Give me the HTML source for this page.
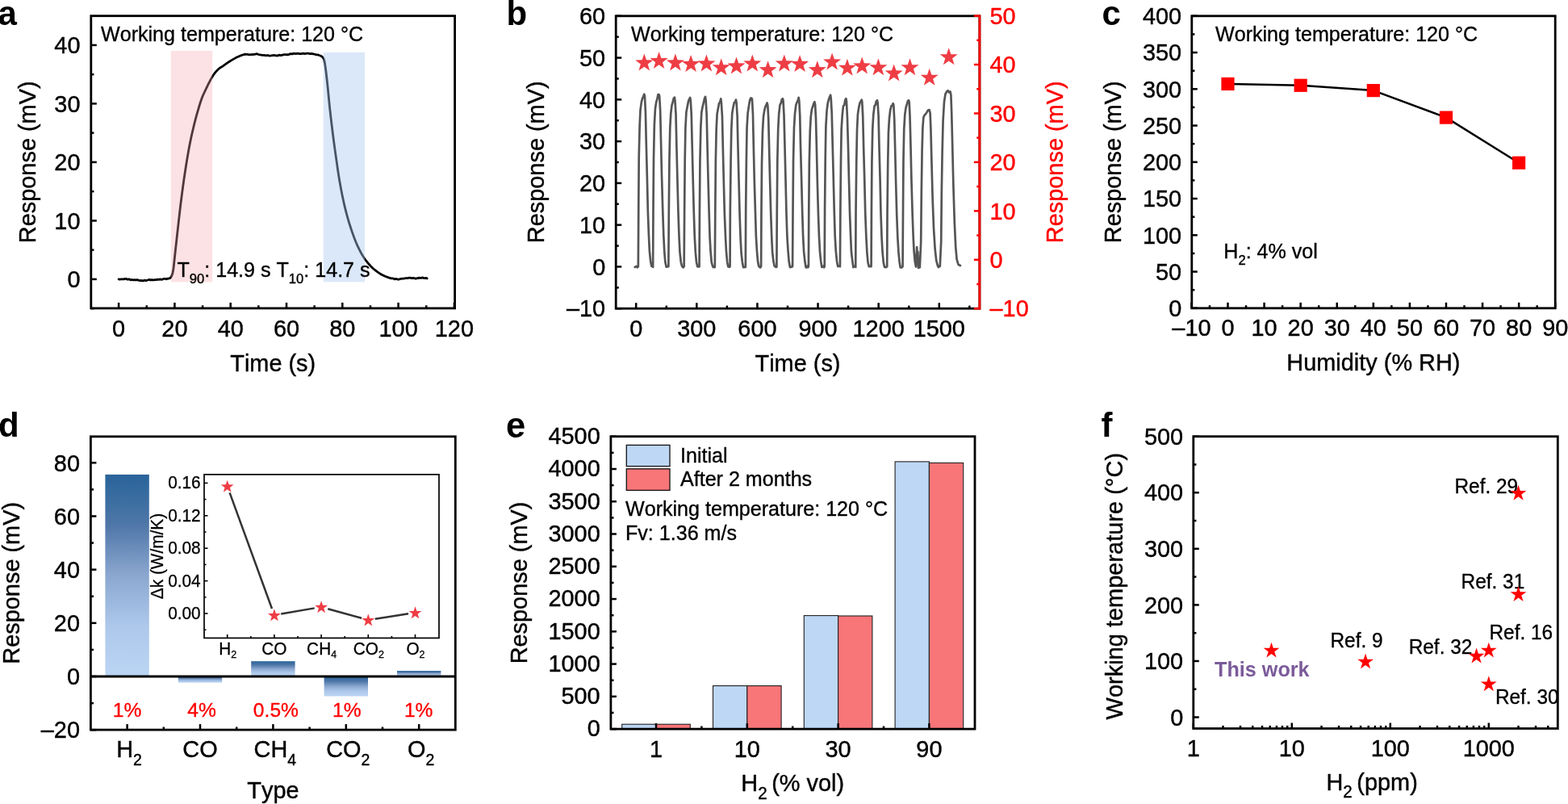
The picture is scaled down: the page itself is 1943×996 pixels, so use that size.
<!DOCTYPE html>
<html><head><meta charset="utf-8"><title>Figure</title>
<style>
html,body{margin:0;padding:0;background:#fff;}
body{width:1943px;height:996px;overflow:hidden;}
svg{display:block;font-family:"Liberation Sans",Arial,Helvetica,sans-serif;font-kerning:none;}
text{font-kerning:none;}
</style></head><body>
<svg width="1943" height="996" viewBox="0 0 1943 996">
<rect width="1943" height="996" fill="#fff"/>
<text transform="translate(-2.5 30.5) scale(1 1.000)" font-size="42" text-anchor="start" font-weight="bold" fill="#000" stroke="#000" stroke-width="0">a</text>
<text transform="translate(627.5 30.5) scale(1 1.000)" font-size="42" text-anchor="start" font-weight="bold" fill="#000" stroke="#000" stroke-width="0">b</text>
<text transform="translate(1365.5 30.5) scale(1 1.000)" font-size="42" text-anchor="start" font-weight="bold" fill="#000" stroke="#000" stroke-width="0">c</text>
<text transform="translate(-2 541.4) scale(1 1.000)" font-size="42" text-anchor="start" font-weight="bold" fill="#000" stroke="#000" stroke-width="0">d</text>
<text transform="translate(627 542.3) scale(1 1.000)" font-size="43.5" text-anchor="start" font-weight="bold" fill="#000" stroke="#000" stroke-width="0">e</text>
<text transform="translate(1364.5 540.9) scale(1 1.000)" font-size="42" text-anchor="start" font-weight="bold" fill="#000" stroke="#000" stroke-width="0">f</text>
<path d="M147.1 345.96 L148.19 346.15 L149.73 345.86 L151.53 345.93 L153.35 345.84 L155 345.31 L156.44 345.33 L157.82 346.21 L159.17 345.86 L160.55 346.01 L162 346.85 L163.54 346.48 L165.13 346.91 L166.75 346.67 L168.38 346.92 L170 346.59 L171.62 347.17 L173.25 347.57 L174.87 347.44 L176.46 347.77 L178 347.75 L179.46 347.14 L180.87 347.6 L182.25 347.25 L183.62 346.78 L185 346.38 L186.38 347.02 L187.75 346.59 L189.13 346.74 L190.54 346.82 L192 346.59 L193.57 346.69 L195.22 346.11 L196.9 346.38 L198.51 345.95 L200 346.29 L201.34 346.16 L202.57 345.39 L203.73 345.35 L204.86 345.32 L206 345.82 L207.17 345.2 L208.36 345.28 L209.5 344.8 L210.57 344.57 L211.5 343.8 L212.27 342.71 L212.92 341.4 L213.48 339.78 L214 337.81 L214.5 335.4 L214.96 332.54 L215.36 329.29 L215.74 325.65 L216.14 321.65 L216.6 317.3 L217.12 312.65 L217.66 307.69 L218.25 302.34 L218.89 296.54 L219.6 290.2 L220.4 283.04 L221.29 275.1 L222.23 266.83 L223.18 258.65 L224.1 251 L225 243.9 L225.9 237.07 L226.79 230.46 L227.69 224.05 L228.6 217.8 L229.52 211.69 L230.44 205.75 L231.36 199.99 L232.28 194.47 L233.2 189.2 L234.08 184.3 L234.94 179.76 L235.8 175.4 L236.71 171.04 L237.7 166.5 L238.8 161.7 L239.99 156.74 L241.23 151.78 L242.48 146.95 L243.7 142.4 L244.93 138.04 L246.18 133.78 L247.42 129.74 L248.6 126.04 L249.7 122.8 L250.68 120.16 L251.58 118.03 L252.42 116.22 L253.25 114.51 L254.1 112.7 L254.98 110.78 L255.86 108.9 L256.74 107.06 L257.62 105.26 L258.5 103.5 L259.39 101.77 L260.28 100.07 L261.17 98.42 L262.05 96.86 L262.9 95.4 L263.71 94.08 L264.49 92.87 L265.25 91.74 L266.05 90.67 L266.9 89.6 L267.82 88.53 L268.8 87.49 L269.8 86.49 L270.81 85.55 L271.8 84.7 L272.77 83.97 L273.73 83.35 L274.68 82.78 L275.64 82.22 L276.6 81.6 L277.53 80.93 L278.44 80.25 L279.36 79.56 L280.34 78.84 L281.4 78.1 L282.58 77.32 L283.84 76.51 L285.16 75.69 L286.49 74.88 L287.8 74.1 L289.07 73.36 L290.32 72.64 L291.59 71.94 L292.9 71.26 L294.3 70.6 L295.8 69.92 L297.39 69.23 L299.03 68.57 L300.68 68.02 L302.3 67.5 L303.9 67.25 L305.5 67.4 L307.09 67.44 L308.69 67.77 L310.3 67.56 L311.86 67.69 L313.38 67.48 L314.93 67.47 L316.58 67.11 L318.4 66.7 L320.45 67.54 L322.7 67.99 L325.03 68.34 L327.36 68.41 L329.6 68.79 L331.74 68.47 L333.84 69.08 L335.91 68.84 L337.96 68.55 L340 68.31 L342.03 68.97 L344.03 69.02 L346.02 68.11 L348.01 68.62 L350 68.12 L351.98 67.68 L353.95 67.57 L355.93 67.73 L357.94 67.56 L360 66.59 L362.14 66.9 L364.33 66.19 L366.55 66.62 L368.78 66.13 L371 66.54 L373.22 66.61 L375.45 66.2 L377.67 66.71 L379.86 66.19 L382 66.12 L384.1 66.74 L386.19 66.41 L388.22 66.77 L390.17 67.25 L392 67.8 L393.75 67.79 L395.43 68.51 L397.01 69.02 L398.41 69.73 L399.6 70.7 L400.49 71.78 L401.13 72.92 L401.62 74.35 L402.07 76.33 L402.6 79.1 L403.2 82.82 L403.8 87.32 L404.4 92.37 L405 97.74 L405.6 103.2 L406.19 108.79 L406.76 114.66 L407.34 120.75 L407.94 126.99 L408.6 133.3 L409.33 139.84 L410.1 146.65 L410.91 153.51 L411.72 160.2 L412.5 166.5 L413.24 172.26 L413.96 177.64 L414.67 182.84 L415.41 188.09 L416.2 193.6 L417.02 199.43 L417.87 205.42 L418.75 211.51 L419.69 217.63 L420.7 223.7 L421.78 229.78 L422.92 235.92 L424.12 242.04 L425.38 248.06 L426.7 253.9 L428.08 259.57 L429.52 265.11 L431.01 270.52 L432.57 275.82 L434.2 281 L435.9 286.11 L437.66 291.14 L439.48 296.04 L441.36 300.71 L443.3 305.1 L445.26 309.18 L447.25 312.99 L449.31 316.58 L451.48 319.97 L453.8 323.2 L456.3 326.29 L458.95 329.22 L461.71 331.95 L464.54 334.46 L467.4 336.7 L470.38 338.68 L473.51 340.42 L476.65 341.92 L479.66 343.18 L482.4 344.2 L484.86 344.92 L487.13 344.93 L489.23 345.88 L491.18 345.47 L493 346.11 L494.64 346.06 L496.08 345.47 L497.41 345.36 L498.69 345.2 L500 345.13 L501.3 344.91 L502.54 344.67 L503.78 344.53 L505.08 344.67 L506.5 344.21 L508.1 344.19 L509.83 344.59 L511.61 344.34 L513.36 344.55 L515 345.23 L516.49 344.77 L517.9 344.67 L519.26 344.04 L520.62 344.28 L522 344.37 L523.53 343.91 L525.17 344.56 L526.77 344.71 L528.13 344.32 L529.1 344.91" fill="none" stroke="#000" stroke-width="2.8" stroke-linejoin="round" stroke-linecap="round"/>
<rect x="211.8" y="63" width="51.4" height="286.4" fill="#f7a7ae" stroke="none" stroke-width="0" fill-opacity="0.33"/>
<rect x="400.7" y="64.9" width="51.3" height="284.4" fill="#a9c8f0" stroke="none" stroke-width="0" fill-opacity="0.42"/>
<rect x="112.8" y="19.7" width="450.8" height="362.2" fill="none" stroke="#000" stroke-width="2.8"/>
<line x1="112.8" y1="345.9" x2="119.8" y2="345.9" stroke="#000" stroke-width="2.5" stroke-linecap="butt"/>
<line x1="112.8" y1="273.4" x2="119.8" y2="273.4" stroke="#000" stroke-width="2.5" stroke-linecap="butt"/>
<line x1="112.8" y1="200.9" x2="119.8" y2="200.9" stroke="#000" stroke-width="2.5" stroke-linecap="butt"/>
<line x1="112.8" y1="128.4" x2="119.8" y2="128.4" stroke="#000" stroke-width="2.5" stroke-linecap="butt"/>
<line x1="112.8" y1="55.9" x2="119.8" y2="55.9" stroke="#000" stroke-width="2.5" stroke-linecap="butt"/>
<line x1="112.8" y1="382.15" x2="116.4" y2="382.15" stroke="#000" stroke-width="2.5" stroke-linecap="butt"/>
<line x1="112.8" y1="309.65" x2="116.4" y2="309.65" stroke="#000" stroke-width="2.5" stroke-linecap="butt"/>
<line x1="112.8" y1="237.15" x2="116.4" y2="237.15" stroke="#000" stroke-width="2.5" stroke-linecap="butt"/>
<line x1="112.8" y1="164.65" x2="116.4" y2="164.65" stroke="#000" stroke-width="2.5" stroke-linecap="butt"/>
<line x1="112.8" y1="92.15" x2="116.4" y2="92.15" stroke="#000" stroke-width="2.5" stroke-linecap="butt"/>
<line x1="147.1" y1="381.9" x2="147.1" y2="374.9" stroke="#000" stroke-width="2.5" stroke-linecap="butt"/>
<line x1="216.4" y1="381.9" x2="216.4" y2="374.9" stroke="#000" stroke-width="2.5" stroke-linecap="butt"/>
<line x1="285.7" y1="381.9" x2="285.7" y2="374.9" stroke="#000" stroke-width="2.5" stroke-linecap="butt"/>
<line x1="355" y1="381.9" x2="355" y2="374.9" stroke="#000" stroke-width="2.5" stroke-linecap="butt"/>
<line x1="424.3" y1="381.9" x2="424.3" y2="374.9" stroke="#000" stroke-width="2.5" stroke-linecap="butt"/>
<line x1="493.6" y1="381.9" x2="493.6" y2="374.9" stroke="#000" stroke-width="2.5" stroke-linecap="butt"/>
<line x1="562.9" y1="381.9" x2="562.9" y2="374.9" stroke="#000" stroke-width="2.5" stroke-linecap="butt"/>
<line x1="181.75" y1="381.9" x2="181.75" y2="378.3" stroke="#000" stroke-width="2.5" stroke-linecap="butt"/>
<line x1="251.05" y1="381.9" x2="251.05" y2="378.3" stroke="#000" stroke-width="2.5" stroke-linecap="butt"/>
<line x1="320.35" y1="381.9" x2="320.35" y2="378.3" stroke="#000" stroke-width="2.5" stroke-linecap="butt"/>
<line x1="389.65" y1="381.9" x2="389.65" y2="378.3" stroke="#000" stroke-width="2.5" stroke-linecap="butt"/>
<line x1="458.95" y1="381.9" x2="458.95" y2="378.3" stroke="#000" stroke-width="2.5" stroke-linecap="butt"/>
<line x1="528.25" y1="381.9" x2="528.25" y2="378.3" stroke="#000" stroke-width="2.5" stroke-linecap="butt"/>
<text transform="translate(99.5 356.1) scale(1 1.045)" font-size="28.9" text-anchor="end" font-weight="normal" fill="#000" stroke="#000" stroke-width="0.4">0</text>
<text transform="translate(99.5 283.6) scale(1 1.045)" font-size="28.9" text-anchor="end" font-weight="normal" fill="#000" stroke="#000" stroke-width="0.4">10</text>
<text transform="translate(99.5 211.1) scale(1 1.045)" font-size="28.9" text-anchor="end" font-weight="normal" fill="#000" stroke="#000" stroke-width="0.4">20</text>
<text transform="translate(99.5 138.6) scale(1 1.045)" font-size="28.9" text-anchor="end" font-weight="normal" fill="#000" stroke="#000" stroke-width="0.4">30</text>
<text transform="translate(99.5 66.1) scale(1 1.045)" font-size="28.9" text-anchor="end" font-weight="normal" fill="#000" stroke="#000" stroke-width="0.4">40</text>
<text transform="translate(147.1 417) scale(1 1.045)" font-size="28.9" text-anchor="middle" font-weight="normal" fill="#000" stroke="#000" stroke-width="0.4">0</text>
<text transform="translate(216.4 417) scale(1 1.045)" font-size="28.9" text-anchor="middle" font-weight="normal" fill="#000" stroke="#000" stroke-width="0.4">20</text>
<text transform="translate(285.7 417) scale(1 1.045)" font-size="28.9" text-anchor="middle" font-weight="normal" fill="#000" stroke="#000" stroke-width="0.4">40</text>
<text transform="translate(355 417) scale(1 1.045)" font-size="28.9" text-anchor="middle" font-weight="normal" fill="#000" stroke="#000" stroke-width="0.4">60</text>
<text transform="translate(424.3 417) scale(1 1.045)" font-size="28.9" text-anchor="middle" font-weight="normal" fill="#000" stroke="#000" stroke-width="0.4">80</text>
<text transform="translate(493.6 417) scale(1 1.045)" font-size="28.9" text-anchor="middle" font-weight="normal" fill="#000" stroke="#000" stroke-width="0.4">100</text>
<text transform="translate(562.9 417) scale(1 1.045)" font-size="28.9" text-anchor="middle" font-weight="normal" fill="#000" stroke="#000" stroke-width="0.4">120</text>
<text transform="translate(338.2 460) scale(1 1.045)" font-size="28.9" text-anchor="middle" font-weight="normal" fill="#000" stroke="#000" stroke-width="0.4">Time (s)</text>
<text transform="translate(43.7 200.8) rotate(-90) scale(1 1.045)" font-size="28.9" text-anchor="middle" fill="#000" stroke="#000" stroke-width="0.4">Response (mV)</text>
<text transform="translate(125 50.9) scale(1 1.045)" font-size="25.1" text-anchor="start" font-weight="normal" fill="#000" stroke="#000" stroke-width="0.35">Working temperature: 120 &#176;C</text>
<text transform="translate(219.5 343.1) scale(1 1.045)" font-size="25.1" text-anchor="start" font-weight="normal" fill="#000" stroke="#000" stroke-width="0.35">T<tspan font-size="16.6" dy="7.8">90</tspan><tspan dy="-7.8">: 14.9 s T</tspan><tspan font-size="16.6" dy="7.8">10</tspan><tspan dy="-7.8">: 14.7 s</tspan></text>
<path d="M786.8 330.93 L788.5 329.83 L789.8 331.23 L790.7 330.35 L790.84 330.25 L791.24 260.32 L791.7 195.5 L792.64 156.06 L793.55 136.16 L794.92 126.12 L796.07 121.83 L797.17 119.54 L798.26 116.71 L798.95 118.98 L799.91 138.72 L800.76 176.5 L801.86 219.18 L802.84 262.09 L803.94 291.55 L804.86 310.9 L806.17 323.91 L807.37 329.77 L808.27 330.07 L809.13 330.89 L809.49 259.37 L810.02 195.44 L810.84 155.05 L811.97 134.38 L813.16 126.73 L814.43 122.44 L815.47 117.06 L816.56 117.04 L817.15 118.88 L818.18 137.44 L819.08 176.62 L820.03 218.38 L821.29 262.3 L822.3 291.77 L823.29 311.99 L824.34 324.49 L825.67 330.75 L826.57 330.47 L827.47 329.96 L828.37 330.08 L828.35 329.91 L828.82 260.9 L829.46 197.63 L830.28 158.52 L831.28 140.66 L832.58 130.19 L833.6 126.53 L834.73 121.96 L835.93 120.58 L836.48 124.88 L837.52 141.3 L838.35 179.71 L839.4 221.6 L840.47 262.89 L841.51 293.02 L842.43 312.12 L843.78 324.74 L844.96 329.44 L845.86 330.71 L846.76 331.23 L847.66 329.44 L847.65 330.15 L848.11 261.36 L848.69 199.07 L849.4 158.49 L850.43 139.01 L851.71 132.33 L853.07 125.3 L854.1 122.9 L855.16 120.92 L855.83 124.78 L856.77 141.93 L857.67 179.48 L858.71 221.99 L859.78 263.04 L860.74 292.65 L861.82 312.18 L862.98 324.76 L864.22 330.29 L865.12 330.15 L866.02 330.42 L866.54 330.33 L866.94 261.27 L867.45 198.53 L868.34 158.18 L869.28 139.61 L870.68 131.82 L871.77 127.51 L872.96 122.33 L873.99 119.79 L874.66 124.6 L875.68 142.29 L876.53 179.92 L877.51 221.05 L878.62 262.82 L879.53 293.06 L880.51 310.76 L881.72 324.91 L882.94 329.48 L883.84 331.18 L884.74 329.6 L885.64 331.19 L885.83 330.83 L886.29 262.2 L886.86 199.44 L887.65 160.68 L888.64 140.77 L889.95 134.11 L891.01 128.01 L892.21 126.52 L893.25 122.38 L893.85 126.83 L894.95 143.98 L895.77 181.24 L896.77 222.68 L897.82 264.18 L898.99 293.06 L899.95 311.12 L901.14 324.73 L902.33 330.46 L903.23 330.39 L904.13 330.74 L904.58 330.01 L904.82 262.24 L905.58 199.71 L906.29 160.52 L907.24 140.83 L908.54 132.51 L909.76 127.23 L910.94 126.43 L911.96 123.56 L912.58 127 L913.62 143.37 L914.44 180.44 L915.5 222.37 L916.53 263.85 L917.56 293.4 L918.53 312.73 L919.8 324.4 L920.99 331.1 L921.89 331.14 L922.79 330.55 L923.69 330.39 L923.84 330.86 L924.18 261.43 L924.89 198.13 L925.55 157.97 L926.64 139.95 L927.99 131.08 L929.05 124.76 L930.15 121.6 L931.34 121.65 L931.98 122.96 L932.97 141.27 L933.78 179.55 L934.72 220.78 L935.97 263 L936.87 292.74 L937.94 310.55 L939.07 324 L940.3 329.85 L941.2 330.62 L942.1 331.43 L943 330.19 L943.11 329.97 L943.45 263.4 L944.02 202.54 L944.98 162.89 L945.99 144.63 L947.25 136.69 L948.36 132.36 L949.53 129.72 L950.55 127.51 L951.29 130.24 L952.21 146.61 L953.1 183.57 L954.14 224.7 L955.21 264.85 L956.23 293.91 L957.14 312.87 L958.43 323.56 L959.69 329.71 L960.59 330.06 L961.49 330.91 L962.39 330.64 L962.41 330.61 L962.79 261.22 L963.34 198.22 L964.24 159.33 L965.21 140.98 L966.47 130.06 L967.68 127.82 L968.71 123.51 L969.85 122.26 L970.47 124.07 L971.48 142.35 L972.45 179.75 L973.47 221.27 L974.45 263.06 L975.42 293.14 L976.55 310.99 L977.64 323.99 L978.95 331.06 L979.85 330.98 L980.75 330.63 L981.65 329.65 L982.08 330.06 L982.51 261.53 L983.04 198.44 L983.96 158.46 L984.96 141.46 L986.29 130.43 L987.41 126.89 L988.53 125.02 L989.64 120.76 L990.27 124.49 L991.22 142.58 L992 180.25 L993.13 221.72 L994.2 263.49 L995.14 292.84 L996.11 311.62 L997.43 324.05 L998.61 331.35 L999.51 331.29 L1000.41 329.63 L1001.31 331.07 L1001.92 329.89 L1002.27 262.42 L1002.82 201.24 L1003.79 162.01 L1004.77 144.38 L1005.93 135.68 L1007.22 131.79 L1008.34 128.12 L1009.37 126.28 L1010.09 129.39 L1010.99 146.12 L1011.9 182.27 L1012.81 223.26 L1013.94 264.38 L1015 293.74 L1016.01 311.81 L1017.23 323.88 L1018.39 330.94 L1019.29 330.21 L1020.19 329.73 L1021.09 331.31 L1021.74 330.27 L1022.07 260.69 L1022.72 196.9 L1023.4 156.71 L1024.56 136.89 L1025.79 127.54 L1026.94 123.23 L1028.08 120.05 L1029.11 117.75 L1029.73 122.14 L1030.71 139.57 L1031.69 178.09 L1032.74 219.95 L1033.78 262.65 L1034.71 292.93 L1035.74 310.59 L1036.99 323.42 L1038.22 330.12 L1039.12 329.6 L1040.02 329.44 L1040.95 330.16 L1041.36 262.07 L1041.99 199.76 L1042.65 160.38 L1043.76 142.45 L1044.97 131.42 L1046.24 130.08 L1047.32 123.88 L1048.31 122.09 L1048.93 125.21 L1049.91 144.29 L1050.98 181.01 L1051.99 222.75 L1053.06 264.68 L1054.09 292.6 L1054.96 312.01 L1056.29 323.39 L1057.36 331.13 L1058.26 329.58 L1059.16 330.19 L1060.06 330.06 L1060.24 330.94 L1060.53 262.23 L1061.25 200.09 L1062.01 160.76 L1062.97 141.3 L1064.25 133.13 L1065.5 127.35 L1066.53 125.68 L1067.72 123.57 L1068.28 125.98 L1069.23 143.91 L1070.1 180.97 L1071.25 222.73 L1072.22 263.7 L1073.37 293.24 L1074.38 312.5 L1075.49 325 L1076.75 330.1 L1077.65 330.14 L1078.55 329.49 L1079.45 330.21 L1079.59 329.95 L1079.91 261.64 L1080.42 200.18 L1081.25 160.12 L1082.23 142.5 L1083.62 131.15 L1084.75 130.07 L1085.84 125.67 L1086.98 124.3 L1087.62 127.31 L1088.61 143.73 L1089.44 180.86 L1090.57 222.31 L1091.5 264.74 L1092.54 293.64 L1093.52 311.73 L1094.74 324.88 L1096.02 330.71 L1096.92 331 L1097.82 331.25 L1098.72 330.09 L1099.22 330.36 L1099.52 263.93 L1100.22 203.09 L1100.94 164.24 L1101.99 146.68 L1103.22 136.33 L1104.5 131.4 L1105.61 130.48 L1106.68 128.17 L1107.32 129.94 L1108.27 148.57 L1109.17 184.38 L1110.12 224.67 L1111.23 266.07 L1112.35 294.39 L1113.4 312.41 L1114.59 324.42 L1115.68 331.32 L1116.58 331.32 L1117.48 331.42 L1118.38 330.39 L1118.55 330.32 L1119 262.61 L1119.46 200.52 L1120.24 160.18 L1121.34 141.37 L1122.6 133.16 L1123.71 129.36 L1124.86 125.25 L1125.97 124.17 L1126.65 125.91 L1127.52 143.86 L1128.48 180.86 L1129.43 223.09 L1130.64 264.75 L1131.7 293.61 L1132.57 311.12 L1133.76 324.14 L1135.01 330.51 L1135.6 318 L1136.2 306 L1136.8 322 L1137.4 312 L1138 331.93 L1138.9 330.12 L1139.8 331.2 L1141.2 299.74 L1141.8 239.96 L1142.6 185.46 L1143.4 158.37 L1144.3 145.76 L1145.5 142.69 L1147 141.37 L1148.6 138.91 L1150 136.56 L1151.6 136.04 L1152.6 140.04 L1153.4 159.6 L1154.4 199.46 L1155.6 244.64 L1157 282.32 L1158.6 307.96 L1160.2 322.58 L1162 329.34 L1163 331 L1163.9 329.41 L1164.8 329.74 L1166.2 299.42 L1166.8 239.92 L1167.6 189.81 L1168.6 149.46 L1170 126.06 L1171.5 116.51 L1173 113.77 L1174.5 112.2 L1176 114.36 L1177.5 113.4 L1178.4 117.71 L1179.2 139.45 L1180.2 179.92 L1181.4 230.15 L1182.8 275.21 L1184.2 305.5 L1185.6 321.37 L1187.5 327.7 L1190 328.99" fill="none" stroke="#555555" stroke-width="2.7" stroke-linejoin="round" stroke-linecap="round"/>
<path d="M798.3 66.5 L801.03 74.35 L809.33 74.52 L802.71 79.53 L805.12 87.48 L798.3 82.74 L791.48 87.48 L793.89 79.53 L787.27 74.52 L795.57 74.35Z" fill="#ee3d44"/>
<path d="M816.6 64.1 L819.33 71.95 L827.63 72.12 L821.01 77.13 L823.42 85.08 L816.6 80.34 L809.78 85.08 L812.19 77.13 L805.57 72.12 L813.87 71.95Z" fill="#ee3d44"/>
<path d="M836.9 66.5 L839.63 74.35 L847.93 74.52 L841.31 79.53 L843.72 87.48 L836.9 82.74 L830.08 87.48 L832.49 79.53 L825.87 74.52 L834.17 74.35Z" fill="#ee3d44"/>
<path d="M856.1 68 L858.83 75.85 L867.13 76.02 L860.51 81.03 L862.92 88.98 L856.1 84.24 L849.28 88.98 L851.69 81.03 L845.07 76.02 L853.37 75.85Z" fill="#ee3d44"/>
<path d="M875.4 67.5 L878.13 75.35 L886.43 75.52 L879.81 80.53 L882.22 88.48 L875.4 83.74 L868.58 88.48 L870.99 80.53 L864.37 75.52 L872.67 75.35Z" fill="#ee3d44"/>
<path d="M893.7 72.3 L896.43 80.15 L904.73 80.32 L898.11 85.33 L900.52 93.28 L893.7 88.54 L886.88 93.28 L889.29 85.33 L882.67 80.32 L890.97 80.15Z" fill="#ee3d44"/>
<path d="M912.5 70.4 L915.23 78.25 L923.53 78.42 L916.91 83.43 L919.32 91.38 L912.5 86.64 L905.68 91.38 L908.09 83.43 L901.47 78.42 L909.77 78.25Z" fill="#ee3d44"/>
<path d="M932.3 67.5 L935.03 75.35 L943.33 75.52 L936.71 80.53 L939.12 88.48 L932.3 83.74 L925.48 88.48 L927.89 80.53 L921.27 75.52 L929.57 75.35Z" fill="#ee3d44"/>
<path d="M951.6 75.2 L954.33 83.05 L962.63 83.22 L956.01 88.23 L958.42 96.18 L951.6 91.44 L944.78 96.18 L947.19 88.23 L940.57 83.22 L948.87 83.05Z" fill="#ee3d44"/>
<path d="M971.8 67.5 L974.53 75.35 L982.83 75.52 L976.21 80.53 L978.62 88.48 L971.8 83.74 L964.98 88.48 L967.39 80.53 L960.77 75.52 L969.07 75.35Z" fill="#ee3d44"/>
<path d="M991.1 68 L993.83 75.85 L1002.13 76.02 L995.51 81.03 L997.92 88.98 L991.1 84.24 L984.28 88.98 L986.69 81.03 L980.07 76.02 L988.37 75.85Z" fill="#ee3d44"/>
<path d="M1012.8 75.2 L1015.53 83.05 L1023.83 83.22 L1017.21 88.23 L1019.62 96.18 L1012.8 91.44 L1005.98 96.18 L1008.39 88.23 L1001.77 83.22 L1010.07 83.05Z" fill="#ee3d44"/>
<path d="M1031.1 65.5 L1033.83 73.35 L1042.13 73.52 L1035.51 78.53 L1037.92 86.48 L1031.1 81.74 L1024.28 86.48 L1026.69 78.53 L1020.07 73.52 L1028.37 73.35Z" fill="#ee3d44"/>
<path d="M1049.9 72.8 L1052.63 80.65 L1060.93 80.82 L1054.31 85.83 L1056.72 93.78 L1049.9 89.04 L1043.08 93.78 L1045.49 85.83 L1038.87 80.82 L1047.17 80.65Z" fill="#ee3d44"/>
<path d="M1068.2 70.4 L1070.93 78.25 L1079.23 78.42 L1072.61 83.43 L1075.02 91.38 L1068.2 86.64 L1061.38 91.38 L1063.79 83.43 L1057.17 78.42 L1065.47 78.25Z" fill="#ee3d44"/>
<path d="M1088.4 72.3 L1091.13 80.15 L1099.43 80.32 L1092.81 85.33 L1095.22 93.28 L1088.4 88.54 L1081.58 93.28 L1083.99 85.33 L1077.37 80.32 L1085.67 80.15Z" fill="#ee3d44"/>
<path d="M1107.7 79.5 L1110.43 87.35 L1118.73 87.52 L1112.11 92.53 L1114.52 100.48 L1107.7 95.74 L1100.88 100.48 L1103.29 92.53 L1096.67 87.52 L1104.97 87.35Z" fill="#ee3d44"/>
<path d="M1127.5 72.3 L1130.23 80.15 L1138.53 80.32 L1131.91 85.33 L1134.32 93.28 L1127.5 88.54 L1120.68 93.28 L1123.09 85.33 L1116.47 80.32 L1124.77 80.15Z" fill="#ee3d44"/>
<path d="M1151.7 84.8 L1154.43 92.65 L1162.73 92.82 L1156.11 97.83 L1158.52 105.78 L1151.7 101.04 L1144.88 105.78 L1147.29 97.83 L1140.67 92.82 L1148.97 92.65Z" fill="#ee3d44"/>
<path d="M1175.7 59.3 L1178.43 67.15 L1186.73 67.32 L1180.11 72.33 L1182.52 80.28 L1175.7 75.54 L1168.88 80.28 L1171.29 72.33 L1164.67 67.32 L1172.97 67.15Z" fill="#ee3d44"/>
<rect x="763.2" y="19.8" width="450.7" height="362.4" fill="none" stroke="#000" stroke-width="2.8"/>
<line x1="1213.9" y1="18.4" x2="1213.9" y2="383.6" stroke="#ff0000" stroke-width="2.8" stroke-linecap="butt"/>
<line x1="763.2" y1="382.2" x2="770.2" y2="382.2" stroke="#000" stroke-width="2.5" stroke-linecap="butt"/>
<line x1="763.2" y1="330.43" x2="770.2" y2="330.43" stroke="#000" stroke-width="2.5" stroke-linecap="butt"/>
<line x1="763.2" y1="278.66" x2="770.2" y2="278.66" stroke="#000" stroke-width="2.5" stroke-linecap="butt"/>
<line x1="763.2" y1="226.89" x2="770.2" y2="226.89" stroke="#000" stroke-width="2.5" stroke-linecap="butt"/>
<line x1="763.2" y1="175.11" x2="770.2" y2="175.11" stroke="#000" stroke-width="2.5" stroke-linecap="butt"/>
<line x1="763.2" y1="123.34" x2="770.2" y2="123.34" stroke="#000" stroke-width="2.5" stroke-linecap="butt"/>
<line x1="763.2" y1="71.57" x2="770.2" y2="71.57" stroke="#000" stroke-width="2.5" stroke-linecap="butt"/>
<line x1="763.2" y1="19.8" x2="770.2" y2="19.8" stroke="#000" stroke-width="2.5" stroke-linecap="butt"/>
<line x1="763.2" y1="356.31" x2="766.8" y2="356.31" stroke="#000" stroke-width="2.5" stroke-linecap="butt"/>
<line x1="763.2" y1="304.54" x2="766.8" y2="304.54" stroke="#000" stroke-width="2.5" stroke-linecap="butt"/>
<line x1="763.2" y1="252.77" x2="766.8" y2="252.77" stroke="#000" stroke-width="2.5" stroke-linecap="butt"/>
<line x1="763.2" y1="201" x2="766.8" y2="201" stroke="#000" stroke-width="2.5" stroke-linecap="butt"/>
<line x1="763.2" y1="149.23" x2="766.8" y2="149.23" stroke="#000" stroke-width="2.5" stroke-linecap="butt"/>
<line x1="763.2" y1="97.46" x2="766.8" y2="97.46" stroke="#000" stroke-width="2.5" stroke-linecap="butt"/>
<line x1="763.2" y1="45.69" x2="766.8" y2="45.69" stroke="#000" stroke-width="2.5" stroke-linecap="butt"/>
<text transform="translate(750.2 392.4) scale(1 1.045)" font-size="28.9" text-anchor="end" font-weight="normal" fill="#000" stroke="#000" stroke-width="0.4">&#8211;10</text>
<text transform="translate(750.2 340.63) scale(1 1.045)" font-size="28.9" text-anchor="end" font-weight="normal" fill="#000" stroke="#000" stroke-width="0.4">0</text>
<text transform="translate(750.2 288.86) scale(1 1.045)" font-size="28.9" text-anchor="end" font-weight="normal" fill="#000" stroke="#000" stroke-width="0.4">10</text>
<text transform="translate(750.2 237.09) scale(1 1.045)" font-size="28.9" text-anchor="end" font-weight="normal" fill="#000" stroke="#000" stroke-width="0.4">20</text>
<text transform="translate(750.2 185.31) scale(1 1.045)" font-size="28.9" text-anchor="end" font-weight="normal" fill="#000" stroke="#000" stroke-width="0.4">30</text>
<text transform="translate(750.2 133.54) scale(1 1.045)" font-size="28.9" text-anchor="end" font-weight="normal" fill="#000" stroke="#000" stroke-width="0.4">40</text>
<text transform="translate(750.2 81.77) scale(1 1.045)" font-size="28.9" text-anchor="end" font-weight="normal" fill="#000" stroke="#000" stroke-width="0.4">50</text>
<text transform="translate(750.2 30) scale(1 1.045)" font-size="28.9" text-anchor="end" font-weight="normal" fill="#000" stroke="#000" stroke-width="0.4">60</text>
<line x1="1213.9" y1="382.2" x2="1206.9" y2="382.2" stroke="#ff0000" stroke-width="2.5" stroke-linecap="butt"/>
<line x1="1213.9" y1="321.77" x2="1206.9" y2="321.77" stroke="#ff0000" stroke-width="2.5" stroke-linecap="butt"/>
<line x1="1213.9" y1="261.33" x2="1206.9" y2="261.33" stroke="#ff0000" stroke-width="2.5" stroke-linecap="butt"/>
<line x1="1213.9" y1="200.9" x2="1206.9" y2="200.9" stroke="#ff0000" stroke-width="2.5" stroke-linecap="butt"/>
<line x1="1213.9" y1="140.47" x2="1206.9" y2="140.47" stroke="#ff0000" stroke-width="2.5" stroke-linecap="butt"/>
<line x1="1213.9" y1="80.03" x2="1206.9" y2="80.03" stroke="#ff0000" stroke-width="2.5" stroke-linecap="butt"/>
<line x1="1213.9" y1="19.6" x2="1206.9" y2="19.6" stroke="#ff0000" stroke-width="2.5" stroke-linecap="butt"/>
<line x1="1213.9" y1="351.98" x2="1210.3" y2="351.98" stroke="#ff0000" stroke-width="2.5" stroke-linecap="butt"/>
<line x1="1213.9" y1="291.55" x2="1210.3" y2="291.55" stroke="#ff0000" stroke-width="2.5" stroke-linecap="butt"/>
<line x1="1213.9" y1="231.12" x2="1210.3" y2="231.12" stroke="#ff0000" stroke-width="2.5" stroke-linecap="butt"/>
<line x1="1213.9" y1="170.68" x2="1210.3" y2="170.68" stroke="#ff0000" stroke-width="2.5" stroke-linecap="butt"/>
<line x1="1213.9" y1="110.25" x2="1210.3" y2="110.25" stroke="#ff0000" stroke-width="2.5" stroke-linecap="butt"/>
<line x1="1213.9" y1="49.82" x2="1210.3" y2="49.82" stroke="#ff0000" stroke-width="2.5" stroke-linecap="butt"/>
<text transform="translate(1226.5 392.4) scale(1 1.045)" font-size="28.9" text-anchor="start" font-weight="normal" fill="#ff0000" stroke="#ff0000" stroke-width="0.4">&#8211;10</text>
<text transform="translate(1226.5 331.97) scale(1 1.045)" font-size="28.9" text-anchor="start" font-weight="normal" fill="#ff0000" stroke="#ff0000" stroke-width="0.4">0</text>
<text transform="translate(1226.5 271.53) scale(1 1.045)" font-size="28.9" text-anchor="start" font-weight="normal" fill="#ff0000" stroke="#ff0000" stroke-width="0.4">10</text>
<text transform="translate(1226.5 211.1) scale(1 1.045)" font-size="28.9" text-anchor="start" font-weight="normal" fill="#ff0000" stroke="#ff0000" stroke-width="0.4">20</text>
<text transform="translate(1226.5 150.67) scale(1 1.045)" font-size="28.9" text-anchor="start" font-weight="normal" fill="#ff0000" stroke="#ff0000" stroke-width="0.4">30</text>
<text transform="translate(1226.5 90.23) scale(1 1.045)" font-size="28.9" text-anchor="start" font-weight="normal" fill="#ff0000" stroke="#ff0000" stroke-width="0.4">40</text>
<text transform="translate(1226.5 29.8) scale(1 1.045)" font-size="28.9" text-anchor="start" font-weight="normal" fill="#ff0000" stroke="#ff0000" stroke-width="0.4">50</text>
<line x1="788.2" y1="382.2" x2="788.2" y2="375.2" stroke="#000" stroke-width="2.5" stroke-linecap="butt"/>
<line x1="863.32" y1="382.2" x2="863.32" y2="375.2" stroke="#000" stroke-width="2.5" stroke-linecap="butt"/>
<line x1="938.44" y1="382.2" x2="938.44" y2="375.2" stroke="#000" stroke-width="2.5" stroke-linecap="butt"/>
<line x1="1013.56" y1="382.2" x2="1013.56" y2="375.2" stroke="#000" stroke-width="2.5" stroke-linecap="butt"/>
<line x1="1088.68" y1="382.2" x2="1088.68" y2="375.2" stroke="#000" stroke-width="2.5" stroke-linecap="butt"/>
<line x1="1163.8" y1="382.2" x2="1163.8" y2="375.2" stroke="#000" stroke-width="2.5" stroke-linecap="butt"/>
<line x1="825.76" y1="382.2" x2="825.76" y2="378.6" stroke="#000" stroke-width="2.5" stroke-linecap="butt"/>
<line x1="900.88" y1="382.2" x2="900.88" y2="378.6" stroke="#000" stroke-width="2.5" stroke-linecap="butt"/>
<line x1="976" y1="382.2" x2="976" y2="378.6" stroke="#000" stroke-width="2.5" stroke-linecap="butt"/>
<line x1="1051.12" y1="382.2" x2="1051.12" y2="378.6" stroke="#000" stroke-width="2.5" stroke-linecap="butt"/>
<line x1="1126.24" y1="382.2" x2="1126.24" y2="378.6" stroke="#000" stroke-width="2.5" stroke-linecap="butt"/>
<line x1="1201.36" y1="382.2" x2="1201.36" y2="378.6" stroke="#000" stroke-width="2.5" stroke-linecap="butt"/>
<text transform="translate(788.2 417) scale(1 1.045)" font-size="28.9" text-anchor="middle" font-weight="normal" fill="#000" stroke="#000" stroke-width="0.4">0</text>
<text transform="translate(863.32 417) scale(1 1.045)" font-size="28.9" text-anchor="middle" font-weight="normal" fill="#000" stroke="#000" stroke-width="0.4">300</text>
<text transform="translate(938.44 417) scale(1 1.045)" font-size="28.9" text-anchor="middle" font-weight="normal" fill="#000" stroke="#000" stroke-width="0.4">600</text>
<text transform="translate(1013.56 417) scale(1 1.045)" font-size="28.9" text-anchor="middle" font-weight="normal" fill="#000" stroke="#000" stroke-width="0.4">900</text>
<text transform="translate(1088.68 417) scale(1 1.045)" font-size="28.9" text-anchor="middle" font-weight="normal" fill="#000" stroke="#000" stroke-width="0.4">1200</text>
<text transform="translate(1163.8 417) scale(1 1.045)" font-size="28.9" text-anchor="middle" font-weight="normal" fill="#000" stroke="#000" stroke-width="0.4">1500</text>
<text transform="translate(988.5 459.6) scale(1 1.045)" font-size="28.9" text-anchor="middle" font-weight="normal" fill="#000" stroke="#000" stroke-width="0.4">Time (s)</text>
<text transform="translate(673.7 200.8) rotate(-90) scale(1 1.045)" font-size="28.9" text-anchor="middle" fill="#000" stroke="#000" stroke-width="0.4">Response (mV)</text>
<text transform="translate(1316.9 200.8) rotate(-90) scale(1 1.045)" font-size="28.9" text-anchor="middle" fill="#ff0000" stroke="#ff0000" stroke-width="0.4">Response (mV)</text>
<text transform="translate(782 50.9) scale(1 1.045)" font-size="25.1" text-anchor="start" font-weight="normal" fill="#000" stroke="#000" stroke-width="0.35">Working temperature: 120 &#176;C</text>
<path d="M1521.5 103.97 L1611.66 105.78 L1701.82 112.11 L1791.98 145.59 L1882.14 201.71" fill="none" stroke="#000" stroke-width="2.5" stroke-linejoin="round" stroke-linecap="round"/>
<rect x="1513.4" y="95.87" width="16.2" height="16.2" fill="#ff0000" stroke="none" stroke-width="0"/>
<rect x="1603.56" y="97.68" width="16.2" height="16.2" fill="#ff0000" stroke="none" stroke-width="0"/>
<rect x="1693.72" y="104.01" width="16.2" height="16.2" fill="#ff0000" stroke="none" stroke-width="0"/>
<rect x="1783.88" y="137.5" width="16.2" height="16.2" fill="#ff0000" stroke="none" stroke-width="0"/>
<rect x="1874.04" y="193.61" width="16.2" height="16.2" fill="#ff0000" stroke="none" stroke-width="0"/>
<rect x="1476.8" y="19.8" width="450.4" height="362" fill="none" stroke="#000" stroke-width="2.8"/>
<line x1="1476.8" y1="381.8" x2="1483.8" y2="381.8" stroke="#000" stroke-width="2.5" stroke-linecap="butt"/>
<line x1="1476.8" y1="336.55" x2="1483.8" y2="336.55" stroke="#000" stroke-width="2.5" stroke-linecap="butt"/>
<line x1="1476.8" y1="291.3" x2="1483.8" y2="291.3" stroke="#000" stroke-width="2.5" stroke-linecap="butt"/>
<line x1="1476.8" y1="246.05" x2="1483.8" y2="246.05" stroke="#000" stroke-width="2.5" stroke-linecap="butt"/>
<line x1="1476.8" y1="200.8" x2="1483.8" y2="200.8" stroke="#000" stroke-width="2.5" stroke-linecap="butt"/>
<line x1="1476.8" y1="155.55" x2="1483.8" y2="155.55" stroke="#000" stroke-width="2.5" stroke-linecap="butt"/>
<line x1="1476.8" y1="110.3" x2="1483.8" y2="110.3" stroke="#000" stroke-width="2.5" stroke-linecap="butt"/>
<line x1="1476.8" y1="65.05" x2="1483.8" y2="65.05" stroke="#000" stroke-width="2.5" stroke-linecap="butt"/>
<line x1="1476.8" y1="19.8" x2="1483.8" y2="19.8" stroke="#000" stroke-width="2.5" stroke-linecap="butt"/>
<line x1="1476.8" y1="359.18" x2="1480.4" y2="359.18" stroke="#000" stroke-width="2.5" stroke-linecap="butt"/>
<line x1="1476.8" y1="313.93" x2="1480.4" y2="313.93" stroke="#000" stroke-width="2.5" stroke-linecap="butt"/>
<line x1="1476.8" y1="268.68" x2="1480.4" y2="268.68" stroke="#000" stroke-width="2.5" stroke-linecap="butt"/>
<line x1="1476.8" y1="223.43" x2="1480.4" y2="223.43" stroke="#000" stroke-width="2.5" stroke-linecap="butt"/>
<line x1="1476.8" y1="178.18" x2="1480.4" y2="178.18" stroke="#000" stroke-width="2.5" stroke-linecap="butt"/>
<line x1="1476.8" y1="132.93" x2="1480.4" y2="132.93" stroke="#000" stroke-width="2.5" stroke-linecap="butt"/>
<line x1="1476.8" y1="87.68" x2="1480.4" y2="87.68" stroke="#000" stroke-width="2.5" stroke-linecap="butt"/>
<line x1="1476.8" y1="42.43" x2="1480.4" y2="42.43" stroke="#000" stroke-width="2.5" stroke-linecap="butt"/>
<text transform="translate(1464.2 392) scale(1 1.045)" font-size="28.9" text-anchor="end" font-weight="normal" fill="#000" stroke="#000" stroke-width="0.4">0</text>
<text transform="translate(1464.2 346.75) scale(1 1.045)" font-size="28.9" text-anchor="end" font-weight="normal" fill="#000" stroke="#000" stroke-width="0.4">50</text>
<text transform="translate(1464.2 301.5) scale(1 1.045)" font-size="28.9" text-anchor="end" font-weight="normal" fill="#000" stroke="#000" stroke-width="0.4">100</text>
<text transform="translate(1464.2 256.25) scale(1 1.045)" font-size="28.9" text-anchor="end" font-weight="normal" fill="#000" stroke="#000" stroke-width="0.4">150</text>
<text transform="translate(1464.2 211) scale(1 1.045)" font-size="28.9" text-anchor="end" font-weight="normal" fill="#000" stroke="#000" stroke-width="0.4">200</text>
<text transform="translate(1464.2 165.75) scale(1 1.045)" font-size="28.9" text-anchor="end" font-weight="normal" fill="#000" stroke="#000" stroke-width="0.4">250</text>
<text transform="translate(1464.2 120.5) scale(1 1.045)" font-size="28.9" text-anchor="end" font-weight="normal" fill="#000" stroke="#000" stroke-width="0.4">300</text>
<text transform="translate(1464.2 75.25) scale(1 1.045)" font-size="28.9" text-anchor="end" font-weight="normal" fill="#000" stroke="#000" stroke-width="0.4">350</text>
<text transform="translate(1464.2 30) scale(1 1.045)" font-size="28.9" text-anchor="end" font-weight="normal" fill="#000" stroke="#000" stroke-width="0.4">400</text>
<line x1="1476.42" y1="381.8" x2="1476.42" y2="374.8" stroke="#000" stroke-width="2.5" stroke-linecap="butt"/>
<line x1="1521.5" y1="381.8" x2="1521.5" y2="374.8" stroke="#000" stroke-width="2.5" stroke-linecap="butt"/>
<line x1="1566.58" y1="381.8" x2="1566.58" y2="374.8" stroke="#000" stroke-width="2.5" stroke-linecap="butt"/>
<line x1="1611.66" y1="381.8" x2="1611.66" y2="374.8" stroke="#000" stroke-width="2.5" stroke-linecap="butt"/>
<line x1="1656.74" y1="381.8" x2="1656.74" y2="374.8" stroke="#000" stroke-width="2.5" stroke-linecap="butt"/>
<line x1="1701.82" y1="381.8" x2="1701.82" y2="374.8" stroke="#000" stroke-width="2.5" stroke-linecap="butt"/>
<line x1="1746.9" y1="381.8" x2="1746.9" y2="374.8" stroke="#000" stroke-width="2.5" stroke-linecap="butt"/>
<line x1="1791.98" y1="381.8" x2="1791.98" y2="374.8" stroke="#000" stroke-width="2.5" stroke-linecap="butt"/>
<line x1="1837.06" y1="381.8" x2="1837.06" y2="374.8" stroke="#000" stroke-width="2.5" stroke-linecap="butt"/>
<line x1="1882.14" y1="381.8" x2="1882.14" y2="374.8" stroke="#000" stroke-width="2.5" stroke-linecap="butt"/>
<line x1="1927.22" y1="381.8" x2="1927.22" y2="374.8" stroke="#000" stroke-width="2.5" stroke-linecap="butt"/>
<line x1="1498.96" y1="381.8" x2="1498.96" y2="378.2" stroke="#000" stroke-width="2.5" stroke-linecap="butt"/>
<line x1="1544.04" y1="381.8" x2="1544.04" y2="378.2" stroke="#000" stroke-width="2.5" stroke-linecap="butt"/>
<line x1="1589.12" y1="381.8" x2="1589.12" y2="378.2" stroke="#000" stroke-width="2.5" stroke-linecap="butt"/>
<line x1="1634.2" y1="381.8" x2="1634.2" y2="378.2" stroke="#000" stroke-width="2.5" stroke-linecap="butt"/>
<line x1="1679.28" y1="381.8" x2="1679.28" y2="378.2" stroke="#000" stroke-width="2.5" stroke-linecap="butt"/>
<line x1="1724.36" y1="381.8" x2="1724.36" y2="378.2" stroke="#000" stroke-width="2.5" stroke-linecap="butt"/>
<line x1="1769.44" y1="381.8" x2="1769.44" y2="378.2" stroke="#000" stroke-width="2.5" stroke-linecap="butt"/>
<line x1="1814.52" y1="381.8" x2="1814.52" y2="378.2" stroke="#000" stroke-width="2.5" stroke-linecap="butt"/>
<line x1="1859.6" y1="381.8" x2="1859.6" y2="378.2" stroke="#000" stroke-width="2.5" stroke-linecap="butt"/>
<line x1="1904.68" y1="381.8" x2="1904.68" y2="378.2" stroke="#000" stroke-width="2.5" stroke-linecap="butt"/>
<text transform="translate(1476.42 416.4) scale(1 1.045)" font-size="28.9" text-anchor="middle" font-weight="normal" fill="#000" stroke="#000" stroke-width="0.4">&#8211;10</text>
<text transform="translate(1521.5 416.4) scale(1 1.045)" font-size="28.9" text-anchor="middle" font-weight="normal" fill="#000" stroke="#000" stroke-width="0.4">0</text>
<text transform="translate(1566.58 416.4) scale(1 1.045)" font-size="28.9" text-anchor="middle" font-weight="normal" fill="#000" stroke="#000" stroke-width="0.4">10</text>
<text transform="translate(1611.66 416.4) scale(1 1.045)" font-size="28.9" text-anchor="middle" font-weight="normal" fill="#000" stroke="#000" stroke-width="0.4">20</text>
<text transform="translate(1656.74 416.4) scale(1 1.045)" font-size="28.9" text-anchor="middle" font-weight="normal" fill="#000" stroke="#000" stroke-width="0.4">30</text>
<text transform="translate(1701.82 416.4) scale(1 1.045)" font-size="28.9" text-anchor="middle" font-weight="normal" fill="#000" stroke="#000" stroke-width="0.4">40</text>
<text transform="translate(1746.9 416.4) scale(1 1.045)" font-size="28.9" text-anchor="middle" font-weight="normal" fill="#000" stroke="#000" stroke-width="0.4">50</text>
<text transform="translate(1791.98 416.4) scale(1 1.045)" font-size="28.9" text-anchor="middle" font-weight="normal" fill="#000" stroke="#000" stroke-width="0.4">60</text>
<text transform="translate(1837.06 416.4) scale(1 1.045)" font-size="28.9" text-anchor="middle" font-weight="normal" fill="#000" stroke="#000" stroke-width="0.4">70</text>
<text transform="translate(1882.14 416.4) scale(1 1.045)" font-size="28.9" text-anchor="middle" font-weight="normal" fill="#000" stroke="#000" stroke-width="0.4">80</text>
<text transform="translate(1927.22 416.4) scale(1 1.045)" font-size="28.9" text-anchor="middle" font-weight="normal" fill="#000" stroke="#000" stroke-width="0.4">90</text>
<text transform="translate(1701.9 458.6) scale(1 1.045)" font-size="28.9" text-anchor="middle" font-weight="normal" fill="#000" stroke="#000" stroke-width="0.4">Humidity (% RH)</text>
<text transform="translate(1388.9 200.8) rotate(-90) scale(1 1.045)" font-size="28.9" text-anchor="middle" fill="#000" stroke="#000" stroke-width="0.4">Response (mV)</text>
<text transform="translate(1506 50.9) scale(1 1.045)" font-size="25.1" text-anchor="start" font-weight="normal" fill="#000" stroke="#000" stroke-width="0.35">Working temperature: 120 &#176;C</text>
<text transform="translate(1516.3 319.7) scale(1 1.045)" font-size="25.1" text-anchor="start" font-weight="normal" fill="#000" stroke="#000" stroke-width="0.35">H<tspan font-size="16.6" dy="8.1">2</tspan><tspan dy="-8.1">: 4% vol</tspan></text>
<defs><linearGradient id="gb" x1="0" y1="0" x2="0" y2="1"><stop offset="0" stop-color="#29649a"/><stop offset="0.25" stop-color="#4f77a8"/><stop offset="0.5" stop-color="#8ba7d0"/><stop offset="0.75" stop-color="#adc8eb"/><stop offset="1" stop-color="#bbd5f4"/></linearGradient></defs>
<rect x="130.4" y="587.86" width="54.4" height="250.14" fill="url(#gb)" stroke="none" stroke-width="0"/>
<rect x="220.8" y="838" width="54.4" height="7.61" fill="url(#gb)" stroke="none" stroke-width="0"/>
<rect x="311.2" y="819.14" width="54.4" height="18.86" fill="url(#gb)" stroke="none" stroke-width="0"/>
<rect x="401.6" y="838" width="54.4" height="24.48" fill="url(#gb)" stroke="none" stroke-width="0"/>
<rect x="492" y="831.05" width="54.4" height="6.95" fill="url(#gb)" stroke="none" stroke-width="0"/>
<line x1="112.4" y1="838" x2="564.3" y2="838" stroke="#000" stroke-width="3" stroke-linecap="butt"/>
<rect x="112.4" y="540.8" width="451.9" height="363.3" fill="none" stroke="#000" stroke-width="2.8"/>
<line x1="112.4" y1="904.17" x2="119.4" y2="904.17" stroke="#000" stroke-width="2.5" stroke-linecap="butt"/>
<line x1="112.4" y1="838" x2="119.4" y2="838" stroke="#000" stroke-width="2.5" stroke-linecap="butt"/>
<line x1="112.4" y1="771.83" x2="119.4" y2="771.83" stroke="#000" stroke-width="2.5" stroke-linecap="butt"/>
<line x1="112.4" y1="705.65" x2="119.4" y2="705.65" stroke="#000" stroke-width="2.5" stroke-linecap="butt"/>
<line x1="112.4" y1="639.47" x2="119.4" y2="639.47" stroke="#000" stroke-width="2.5" stroke-linecap="butt"/>
<line x1="112.4" y1="573.3" x2="119.4" y2="573.3" stroke="#000" stroke-width="2.5" stroke-linecap="butt"/>
<line x1="112.4" y1="871.09" x2="116" y2="871.09" stroke="#000" stroke-width="2.5" stroke-linecap="butt"/>
<line x1="112.4" y1="804.91" x2="116" y2="804.91" stroke="#000" stroke-width="2.5" stroke-linecap="butt"/>
<line x1="112.4" y1="738.74" x2="116" y2="738.74" stroke="#000" stroke-width="2.5" stroke-linecap="butt"/>
<line x1="112.4" y1="672.56" x2="116" y2="672.56" stroke="#000" stroke-width="2.5" stroke-linecap="butt"/>
<line x1="112.4" y1="606.39" x2="116" y2="606.39" stroke="#000" stroke-width="2.5" stroke-linecap="butt"/>
<text transform="translate(99 914.38) scale(1 1.045)" font-size="28.9" text-anchor="end" font-weight="normal" fill="#000" stroke="#000" stroke-width="0.4">&#8211;20</text>
<text transform="translate(99 848.2) scale(1 1.045)" font-size="28.9" text-anchor="end" font-weight="normal" fill="#000" stroke="#000" stroke-width="0.4">0</text>
<text transform="translate(99 782.03) scale(1 1.045)" font-size="28.9" text-anchor="end" font-weight="normal" fill="#000" stroke="#000" stroke-width="0.4">20</text>
<text transform="translate(99 715.85) scale(1 1.045)" font-size="28.9" text-anchor="end" font-weight="normal" fill="#000" stroke="#000" stroke-width="0.4">40</text>
<text transform="translate(99 649.67) scale(1 1.045)" font-size="28.9" text-anchor="end" font-weight="normal" fill="#000" stroke="#000" stroke-width="0.4">60</text>
<text transform="translate(99 583.5) scale(1 1.045)" font-size="28.9" text-anchor="end" font-weight="normal" fill="#000" stroke="#000" stroke-width="0.4">80</text>
<line x1="157.6" y1="904.1" x2="157.6" y2="897.1" stroke="#000" stroke-width="2.5" stroke-linecap="butt"/>
<line x1="248" y1="904.1" x2="248" y2="897.1" stroke="#000" stroke-width="2.5" stroke-linecap="butt"/>
<line x1="338.4" y1="904.1" x2="338.4" y2="897.1" stroke="#000" stroke-width="2.5" stroke-linecap="butt"/>
<line x1="428.8" y1="904.1" x2="428.8" y2="897.1" stroke="#000" stroke-width="2.5" stroke-linecap="butt"/>
<line x1="519.2" y1="904.1" x2="519.2" y2="897.1" stroke="#000" stroke-width="2.5" stroke-linecap="butt"/>
<line x1="202.8" y1="904.1" x2="202.8" y2="900.5" stroke="#000" stroke-width="2.5" stroke-linecap="butt"/>
<line x1="293.2" y1="904.1" x2="293.2" y2="900.5" stroke="#000" stroke-width="2.5" stroke-linecap="butt"/>
<line x1="383.6" y1="904.1" x2="383.6" y2="900.5" stroke="#000" stroke-width="2.5" stroke-linecap="butt"/>
<line x1="474" y1="904.1" x2="474" y2="900.5" stroke="#000" stroke-width="2.5" stroke-linecap="butt"/>
<text transform="translate(160.1 937.8) scale(1 1.045)" font-size="28.9" text-anchor="middle" font-weight="normal" fill="#000" stroke="#000" stroke-width="0.4">H<tspan font-size="19.5" dy="9.8">2</tspan></text>
<text transform="translate(248 937.8) scale(1 1.045)" font-size="28.9" text-anchor="middle" font-weight="normal" fill="#000" stroke="#000" stroke-width="0.4">CO</text>
<text transform="translate(340.9 937.8) scale(1 1.045)" font-size="28.9" text-anchor="middle" font-weight="normal" fill="#000" stroke="#000" stroke-width="0.4">CH<tspan font-size="19.5" dy="9.8">4</tspan></text>
<text transform="translate(431.3 937.8) scale(1 1.045)" font-size="28.9" text-anchor="middle" font-weight="normal" fill="#000" stroke="#000" stroke-width="0.4">CO<tspan font-size="19.5" dy="9.8">2</tspan></text>
<text transform="translate(521.7 937.8) scale(1 1.045)" font-size="28.9" text-anchor="middle" font-weight="normal" fill="#000" stroke="#000" stroke-width="0.4">O<tspan font-size="19.5" dy="9.8">2</tspan></text>
<text transform="translate(157.6 888) scale(1 0.955)" font-size="24.6" text-anchor="middle" font-weight="normal" fill="#ff0000" stroke="#ff0000" stroke-width="0.34">1%</text>
<text transform="translate(250 888) scale(1 0.955)" font-size="24.6" text-anchor="middle" font-weight="normal" fill="#ff0000" stroke="#ff0000" stroke-width="0.34">4%</text>
<text transform="translate(341.9 888) scale(1 0.955)" font-size="24.6" text-anchor="middle" font-weight="normal" fill="#ff0000" stroke="#ff0000" stroke-width="0.34">0.5%</text>
<text transform="translate(429.8 888) scale(1 0.955)" font-size="24.6" text-anchor="middle" font-weight="normal" fill="#ff0000" stroke="#ff0000" stroke-width="0.34">1%</text>
<text transform="translate(518.7 888) scale(1 0.955)" font-size="24.6" text-anchor="middle" font-weight="normal" fill="#ff0000" stroke="#ff0000" stroke-width="0.34">1%</text>
<text transform="translate(338.4 988.9) scale(1 1.045)" font-size="28.9" text-anchor="middle" font-weight="normal" fill="#000" stroke="#000" stroke-width="0.4">Type</text>
<text transform="translate(24.1 722.3) rotate(-90) scale(1 1.045)" font-size="28.9" text-anchor="middle" fill="#000" stroke="#000" stroke-width="0.4">Response (mV)</text>
<line x1="284.61" y1="610.43" x2="336.99" y2="754.03" stroke="#333" stroke-width="2.5" stroke-linecap="butt"/>
<line x1="348.27" y1="760.57" x2="389.73" y2="753.37" stroke="#333" stroke-width="2.5" stroke-linecap="butt"/>
<line x1="406.29" y1="754.19" x2="448.11" y2="765.81" stroke="#333" stroke-width="2.5" stroke-linecap="butt"/>
<line x1="464.7" y1="766.77" x2="506.1" y2="760.3" stroke="#333" stroke-width="2.5" stroke-linecap="butt"/>
<path d="M281.7 594.74 L283.65 600.35 L289.59 600.48 L284.86 604.07 L286.58 609.75 L281.7 606.36 L276.82 609.75 L278.54 604.07 L273.81 600.48 L279.75 600.35Z" fill="#ee3d44"/>
<path d="M339.9 754.32 L341.85 759.93 L347.79 760.06 L343.06 763.65 L344.78 769.33 L339.9 765.94 L335.02 769.33 L336.74 763.65 L332.01 760.06 L337.95 759.93Z" fill="#ee3d44"/>
<path d="M398.1 744.22 L400.05 749.83 L405.99 749.96 L401.26 753.55 L402.98 759.23 L398.1 755.84 L393.22 759.23 L394.94 753.55 L390.21 749.96 L396.15 749.83Z" fill="#ee3d44"/>
<path d="M456.3 760.38 L458.25 765.99 L464.19 766.12 L459.46 769.71 L461.18 775.39 L456.3 772 L451.42 775.39 L453.14 769.71 L448.41 766.12 L454.35 765.99Z" fill="#ee3d44"/>
<path d="M514.5 751.29 L516.45 756.9 L522.39 757.03 L517.66 760.62 L519.38 766.3 L514.5 762.91 L509.62 766.3 L511.34 760.62 L506.61 757.03 L512.55 756.9Z" fill="#ee3d44"/>
<rect x="253" y="587.8" width="291" height="202.6" fill="none" stroke="#000" stroke-width="1.7"/>
<line x1="253" y1="760" x2="257.5" y2="760" stroke="#000" stroke-width="1.6" stroke-linecap="butt"/>
<line x1="253" y1="719.6" x2="257.5" y2="719.6" stroke="#000" stroke-width="1.6" stroke-linecap="butt"/>
<line x1="253" y1="679.2" x2="257.5" y2="679.2" stroke="#000" stroke-width="1.6" stroke-linecap="butt"/>
<line x1="253" y1="638.8" x2="257.5" y2="638.8" stroke="#000" stroke-width="1.6" stroke-linecap="butt"/>
<line x1="253" y1="598.4" x2="257.5" y2="598.4" stroke="#000" stroke-width="1.6" stroke-linecap="butt"/>
<line x1="253" y1="780.2" x2="255.5" y2="780.2" stroke="#000" stroke-width="1.6" stroke-linecap="butt"/>
<line x1="253" y1="739.8" x2="255.5" y2="739.8" stroke="#000" stroke-width="1.6" stroke-linecap="butt"/>
<line x1="253" y1="699.4" x2="255.5" y2="699.4" stroke="#000" stroke-width="1.6" stroke-linecap="butt"/>
<line x1="253" y1="659" x2="255.5" y2="659" stroke="#000" stroke-width="1.6" stroke-linecap="butt"/>
<line x1="253" y1="618.6" x2="255.5" y2="618.6" stroke="#000" stroke-width="1.6" stroke-linecap="butt"/>
<text transform="translate(248.6 766.9) scale(1 1.045)" font-size="20.8" text-anchor="end" font-weight="normal" fill="#000" stroke="#000" stroke-width="0.29">0.00</text>
<text transform="translate(248.6 726.5) scale(1 1.045)" font-size="20.8" text-anchor="end" font-weight="normal" fill="#000" stroke="#000" stroke-width="0.29">0.04</text>
<text transform="translate(248.6 686.1) scale(1 1.045)" font-size="20.8" text-anchor="end" font-weight="normal" fill="#000" stroke="#000" stroke-width="0.29">0.08</text>
<text transform="translate(248.6 645.7) scale(1 1.045)" font-size="20.8" text-anchor="end" font-weight="normal" fill="#000" stroke="#000" stroke-width="0.29">0.12</text>
<text transform="translate(248.6 605.3) scale(1 1.045)" font-size="20.8" text-anchor="end" font-weight="normal" fill="#000" stroke="#000" stroke-width="0.29">0.16</text>
<line x1="281.7" y1="790.4" x2="281.7" y2="785.9" stroke="#000" stroke-width="1.6" stroke-linecap="butt"/>
<line x1="339.9" y1="790.4" x2="339.9" y2="785.9" stroke="#000" stroke-width="1.6" stroke-linecap="butt"/>
<line x1="398.1" y1="790.4" x2="398.1" y2="785.9" stroke="#000" stroke-width="1.6" stroke-linecap="butt"/>
<line x1="456.3" y1="790.4" x2="456.3" y2="785.9" stroke="#000" stroke-width="1.6" stroke-linecap="butt"/>
<line x1="514.5" y1="790.4" x2="514.5" y2="785.9" stroke="#000" stroke-width="1.6" stroke-linecap="butt"/>
<line x1="310.8" y1="790.4" x2="310.8" y2="787.9" stroke="#000" stroke-width="1.6" stroke-linecap="butt"/>
<line x1="369" y1="790.4" x2="369" y2="787.9" stroke="#000" stroke-width="1.6" stroke-linecap="butt"/>
<line x1="427.2" y1="790.4" x2="427.2" y2="787.9" stroke="#000" stroke-width="1.6" stroke-linecap="butt"/>
<line x1="485.4" y1="790.4" x2="485.4" y2="787.9" stroke="#000" stroke-width="1.6" stroke-linecap="butt"/>
<text transform="translate(282.2 811) scale(1 1.045)" font-size="20.8" text-anchor="middle" font-weight="normal" fill="#000" stroke="#000" stroke-width="0.29">H<tspan font-size="12.5" dy="3.8">2</tspan></text>
<text transform="translate(339.9 811) scale(1 1.045)" font-size="20.8" text-anchor="middle" font-weight="normal" fill="#000" stroke="#000" stroke-width="0.29">CO</text>
<text transform="translate(398.6 811) scale(1 1.045)" font-size="20.8" text-anchor="middle" font-weight="normal" fill="#000" stroke="#000" stroke-width="0.29">CH<tspan font-size="12.5" dy="3.8">4</tspan></text>
<text transform="translate(456.8 811) scale(1 1.045)" font-size="20.8" text-anchor="middle" font-weight="normal" fill="#000" stroke="#000" stroke-width="0.29">CO<tspan font-size="12.5" dy="3.8">2</tspan></text>
<text transform="translate(515 811) scale(1 1.045)" font-size="20.8" text-anchor="middle" font-weight="normal" fill="#000" stroke="#000" stroke-width="0.29">O<tspan font-size="12.5" dy="3.8">2</tspan></text>
<text transform="translate(202.1 689) rotate(-90) scale(1 1.045)" font-size="20.8" text-anchor="middle" fill="#000" stroke="#000" stroke-width="0.29">&#916;k (W/m/K)</text>
<rect x="770.7" y="897.22" width="42.3" height="5.88" fill="#bdd7f5" stroke="#222" stroke-width="1.1"/>
<rect x="813" y="897.22" width="42.3" height="5.88" fill="#f87578" stroke="#222" stroke-width="1.1"/>
<rect x="883.5" y="849.55" width="42.3" height="53.55" fill="#bdd7f5" stroke="#222" stroke-width="1.1"/>
<rect x="925.8" y="849.55" width="42.3" height="53.55" fill="#f87578" stroke="#222" stroke-width="1.1"/>
<rect x="996.3" y="762.58" width="42.3" height="140.52" fill="#bdd7f5" stroke="#222" stroke-width="1.1"/>
<rect x="1038.6" y="762.99" width="42.3" height="140.11" fill="#f87578" stroke="#222" stroke-width="1.1"/>
<rect x="1109.1" y="571.9" width="42.3" height="331.2" fill="#bdd7f5" stroke="#222" stroke-width="1.1"/>
<rect x="1151.4" y="573.43" width="42.3" height="329.67" fill="#f87578" stroke="#222" stroke-width="1.1"/>
<rect x="756.9" y="540.7" width="451.1" height="362.4" fill="none" stroke="#000" stroke-width="2.8"/>
<line x1="756.9" y1="903.1" x2="763.9" y2="903.1" stroke="#000" stroke-width="2.5" stroke-linecap="butt"/>
<line x1="756.9" y1="862.84" x2="763.9" y2="862.84" stroke="#000" stroke-width="2.5" stroke-linecap="butt"/>
<line x1="756.9" y1="822.58" x2="763.9" y2="822.58" stroke="#000" stroke-width="2.5" stroke-linecap="butt"/>
<line x1="756.9" y1="782.31" x2="763.9" y2="782.31" stroke="#000" stroke-width="2.5" stroke-linecap="butt"/>
<line x1="756.9" y1="742.05" x2="763.9" y2="742.05" stroke="#000" stroke-width="2.5" stroke-linecap="butt"/>
<line x1="756.9" y1="701.79" x2="763.9" y2="701.79" stroke="#000" stroke-width="2.5" stroke-linecap="butt"/>
<line x1="756.9" y1="661.52" x2="763.9" y2="661.52" stroke="#000" stroke-width="2.5" stroke-linecap="butt"/>
<line x1="756.9" y1="621.26" x2="763.9" y2="621.26" stroke="#000" stroke-width="2.5" stroke-linecap="butt"/>
<line x1="756.9" y1="581" x2="763.9" y2="581" stroke="#000" stroke-width="2.5" stroke-linecap="butt"/>
<line x1="756.9" y1="540.74" x2="763.9" y2="540.74" stroke="#000" stroke-width="2.5" stroke-linecap="butt"/>
<line x1="756.9" y1="882.97" x2="760.5" y2="882.97" stroke="#000" stroke-width="2.5" stroke-linecap="butt"/>
<line x1="756.9" y1="842.71" x2="760.5" y2="842.71" stroke="#000" stroke-width="2.5" stroke-linecap="butt"/>
<line x1="756.9" y1="802.44" x2="760.5" y2="802.44" stroke="#000" stroke-width="2.5" stroke-linecap="butt"/>
<line x1="756.9" y1="762.18" x2="760.5" y2="762.18" stroke="#000" stroke-width="2.5" stroke-linecap="butt"/>
<line x1="756.9" y1="721.92" x2="760.5" y2="721.92" stroke="#000" stroke-width="2.5" stroke-linecap="butt"/>
<line x1="756.9" y1="681.66" x2="760.5" y2="681.66" stroke="#000" stroke-width="2.5" stroke-linecap="butt"/>
<line x1="756.9" y1="641.39" x2="760.5" y2="641.39" stroke="#000" stroke-width="2.5" stroke-linecap="butt"/>
<line x1="756.9" y1="601.13" x2="760.5" y2="601.13" stroke="#000" stroke-width="2.5" stroke-linecap="butt"/>
<line x1="756.9" y1="560.87" x2="760.5" y2="560.87" stroke="#000" stroke-width="2.5" stroke-linecap="butt"/>
<text transform="translate(743.7 912.4) scale(1 1.045)" font-size="28.9" text-anchor="end" font-weight="normal" fill="#000" stroke="#000" stroke-width="0.4">0</text>
<text transform="translate(743.7 872.14) scale(1 1.045)" font-size="28.9" text-anchor="end" font-weight="normal" fill="#000" stroke="#000" stroke-width="0.4">500</text>
<text transform="translate(743.7 831.88) scale(1 1.045)" font-size="28.9" text-anchor="end" font-weight="normal" fill="#000" stroke="#000" stroke-width="0.4">1000</text>
<text transform="translate(743.7 791.61) scale(1 1.045)" font-size="28.9" text-anchor="end" font-weight="normal" fill="#000" stroke="#000" stroke-width="0.4">1500</text>
<text transform="translate(743.7 751.35) scale(1 1.045)" font-size="28.9" text-anchor="end" font-weight="normal" fill="#000" stroke="#000" stroke-width="0.4">2000</text>
<text transform="translate(743.7 711.09) scale(1 1.045)" font-size="28.9" text-anchor="end" font-weight="normal" fill="#000" stroke="#000" stroke-width="0.4">2500</text>
<text transform="translate(743.7 670.82) scale(1 1.045)" font-size="28.9" text-anchor="end" font-weight="normal" fill="#000" stroke="#000" stroke-width="0.4">3000</text>
<text transform="translate(743.7 630.56) scale(1 1.045)" font-size="28.9" text-anchor="end" font-weight="normal" fill="#000" stroke="#000" stroke-width="0.4">3500</text>
<text transform="translate(743.7 590.3) scale(1 1.045)" font-size="28.9" text-anchor="end" font-weight="normal" fill="#000" stroke="#000" stroke-width="0.4">4000</text>
<text transform="translate(743.7 550.04) scale(1 1.045)" font-size="28.9" text-anchor="end" font-weight="normal" fill="#000" stroke="#000" stroke-width="0.4">4500</text>
<line x1="813" y1="903.1" x2="813" y2="896.1" stroke="#000" stroke-width="2.5" stroke-linecap="butt"/>
<line x1="925.8" y1="903.1" x2="925.8" y2="896.1" stroke="#000" stroke-width="2.5" stroke-linecap="butt"/>
<line x1="1038.6" y1="903.1" x2="1038.6" y2="896.1" stroke="#000" stroke-width="2.5" stroke-linecap="butt"/>
<line x1="1151.4" y1="903.1" x2="1151.4" y2="896.1" stroke="#000" stroke-width="2.5" stroke-linecap="butt"/>
<line x1="869.4" y1="903.1" x2="869.4" y2="899.5" stroke="#000" stroke-width="2.5" stroke-linecap="butt"/>
<line x1="982.2" y1="903.1" x2="982.2" y2="899.5" stroke="#000" stroke-width="2.5" stroke-linecap="butt"/>
<line x1="1095" y1="903.1" x2="1095" y2="899.5" stroke="#000" stroke-width="2.5" stroke-linecap="butt"/>
<text transform="translate(813 938) scale(1 1.045)" font-size="28.9" text-anchor="middle" font-weight="normal" fill="#000" stroke="#000" stroke-width="0.4">1</text>
<text transform="translate(925.8 938) scale(1 1.045)" font-size="28.9" text-anchor="middle" font-weight="normal" fill="#000" stroke="#000" stroke-width="0.4">10</text>
<text transform="translate(1038.6 938) scale(1 1.045)" font-size="28.9" text-anchor="middle" font-weight="normal" fill="#000" stroke="#000" stroke-width="0.4">30</text>
<text transform="translate(1151.4 938) scale(1 1.045)" font-size="28.9" text-anchor="middle" font-weight="normal" fill="#000" stroke="#000" stroke-width="0.4">90</text>
<text transform="translate(982.2 980.2) scale(1 1.045)" font-size="28.9" text-anchor="middle" font-weight="normal" fill="#000" stroke="#000" stroke-width="0.4">H<tspan font-size="20.5" dy="8.9">2 </tspan><tspan dy="-8.9">(% vol)</tspan></text>
<text transform="translate(653 722) rotate(-90) scale(1 1.045)" font-size="28.9" text-anchor="middle" fill="#000" stroke="#000" stroke-width="0.4">Response (mV)</text>
<rect x="776.3" y="551.4" width="53.7" height="26.2" fill="#bdd7f5" stroke="#111" stroke-width="1.3"/>
<rect x="776.3" y="580.8" width="53.7" height="26.6" fill="#f87578" stroke="#111" stroke-width="1.3"/>
<text transform="translate(843 572.9) scale(1 1.045)" font-size="25.1" text-anchor="start" font-weight="normal" fill="#000" stroke="#000" stroke-width="0.35">Initial</text>
<text transform="translate(843 601.8) scale(1 1.045)" font-size="25.1" text-anchor="start" font-weight="normal" fill="#000" stroke="#000" stroke-width="0.35">After 2 months</text>
<text transform="translate(775 638.9) scale(1 1.045)" font-size="25.1" text-anchor="start" font-weight="normal" fill="#000" stroke="#000" stroke-width="0.35">Working temperature: 120 &#176;C</text>
<text transform="translate(775 669) scale(1 1.045)" font-size="25.1" text-anchor="start" font-weight="normal" fill="#000" stroke="#000" stroke-width="0.35">Fv: 1.36 m/s</text>
<text transform="translate(1802.5 610.6) scale(1 1.045)" font-size="24.4" text-anchor="start" font-weight="normal" fill="#000" stroke="#000" stroke-width="0.34">Ref. 29</text>
<text transform="translate(1810.6 728.6) scale(1 1.045)" font-size="24.4" text-anchor="start" font-weight="normal" fill="#000" stroke="#000" stroke-width="0.34">Ref. 31</text>
<text transform="translate(1845.5 791.6) scale(1 1.045)" font-size="24.4" text-anchor="start" font-weight="normal" fill="#000" stroke="#000" stroke-width="0.34">Ref. 16</text>
<text transform="translate(1745.7 810.3) scale(1 1.045)" font-size="24.4" text-anchor="start" font-weight="normal" fill="#000" stroke="#000" stroke-width="0.34">Ref. 32</text>
<text transform="translate(1852.9 871.7) scale(1 1.045)" font-size="24.4" text-anchor="start" font-weight="normal" fill="#000" stroke="#000" stroke-width="0.34">Ref. 30</text>
<text transform="translate(1648.5 801.8) scale(1 1.045)" font-size="24.4" text-anchor="start" font-weight="normal" fill="#000" stroke="#000" stroke-width="0.34">Ref. 9</text>
<text transform="translate(1505 837.8) scale(1 1.045)" font-size="25.2" text-anchor="start" font-weight="bold" fill="#7b5a9a" stroke="#7b5a9a" stroke-width="0">This work</text>
<path d="M1575.47 795.63 L1577.81 802.81 L1585.36 802.81 L1579.25 807.26 L1581.58 814.44 L1575.47 810 L1569.36 814.44 L1571.69 807.26 L1565.58 802.81 L1573.14 802.81Z" fill="#ff0000"/>
<path d="M1692.08 809.54 L1694.41 816.73 L1701.97 816.73 L1695.86 821.17 L1698.19 828.35 L1692.08 823.91 L1685.97 828.35 L1688.3 821.17 L1682.19 816.73 L1689.74 816.73Z" fill="#ff0000"/>
<path d="M1881.53 600.86 L1883.86 608.05 L1891.42 608.05 L1885.3 612.49 L1887.64 619.67 L1881.53 615.23 L1875.41 619.67 L1877.75 612.49 L1871.63 608.05 L1879.19 608.05Z" fill="#ff0000"/>
<path d="M1881.53 726.07 L1883.86 733.25 L1891.42 733.25 L1885.3 737.7 L1887.64 744.88 L1881.53 740.44 L1875.41 744.88 L1877.75 737.7 L1871.63 733.25 L1879.19 733.25Z" fill="#ff0000"/>
<path d="M1844.8 795.63 L1847.14 802.81 L1854.69 802.81 L1848.58 807.26 L1850.91 814.44 L1844.8 810 L1838.69 814.44 L1841.02 807.26 L1834.91 802.81 L1842.46 802.81Z" fill="#ff0000"/>
<path d="M1829.56 802.58 L1831.89 809.77 L1839.45 809.77 L1833.34 814.21 L1835.67 821.4 L1829.56 816.96 L1823.44 821.4 L1825.78 814.21 L1819.67 809.77 L1827.22 809.77Z" fill="#ff0000"/>
<path d="M1844.8 837.36 L1847.14 844.55 L1854.69 844.55 L1848.58 848.99 L1850.91 856.18 L1844.8 851.74 L1838.69 856.18 L1841.02 848.99 L1834.91 844.55 L1842.46 844.55Z" fill="#ff0000"/>
<rect x="1478.8" y="540.7" width="451.5" height="361.8" fill="none" stroke="#000" stroke-width="2.8"/>
<line x1="1478.8" y1="888.5" x2="1485.8" y2="888.5" stroke="#000" stroke-width="2.5" stroke-linecap="butt"/>
<line x1="1478.8" y1="818.94" x2="1485.8" y2="818.94" stroke="#000" stroke-width="2.5" stroke-linecap="butt"/>
<line x1="1478.8" y1="749.38" x2="1485.8" y2="749.38" stroke="#000" stroke-width="2.5" stroke-linecap="butt"/>
<line x1="1478.8" y1="679.82" x2="1485.8" y2="679.82" stroke="#000" stroke-width="2.5" stroke-linecap="butt"/>
<line x1="1478.8" y1="610.26" x2="1485.8" y2="610.26" stroke="#000" stroke-width="2.5" stroke-linecap="butt"/>
<line x1="1478.8" y1="540.7" x2="1485.8" y2="540.7" stroke="#000" stroke-width="2.5" stroke-linecap="butt"/>
<line x1="1478.8" y1="853.72" x2="1482.4" y2="853.72" stroke="#000" stroke-width="2.5" stroke-linecap="butt"/>
<line x1="1478.8" y1="784.16" x2="1482.4" y2="784.16" stroke="#000" stroke-width="2.5" stroke-linecap="butt"/>
<line x1="1478.8" y1="714.6" x2="1482.4" y2="714.6" stroke="#000" stroke-width="2.5" stroke-linecap="butt"/>
<line x1="1478.8" y1="645.04" x2="1482.4" y2="645.04" stroke="#000" stroke-width="2.5" stroke-linecap="butt"/>
<line x1="1478.8" y1="575.48" x2="1482.4" y2="575.48" stroke="#000" stroke-width="2.5" stroke-linecap="butt"/>
<text transform="translate(1466.2 898.7) scale(1 1.045)" font-size="28.9" text-anchor="end" font-weight="normal" fill="#000" stroke="#000" stroke-width="0.4">0</text>
<text transform="translate(1466.2 829.14) scale(1 1.045)" font-size="28.9" text-anchor="end" font-weight="normal" fill="#000" stroke="#000" stroke-width="0.4">100</text>
<text transform="translate(1466.2 759.58) scale(1 1.045)" font-size="28.9" text-anchor="end" font-weight="normal" fill="#000" stroke="#000" stroke-width="0.4">200</text>
<text transform="translate(1466.2 690.02) scale(1 1.045)" font-size="28.9" text-anchor="end" font-weight="normal" fill="#000" stroke="#000" stroke-width="0.4">300</text>
<text transform="translate(1466.2 620.46) scale(1 1.045)" font-size="28.9" text-anchor="end" font-weight="normal" fill="#000" stroke="#000" stroke-width="0.4">400</text>
<text transform="translate(1466.2 550.9) scale(1 1.045)" font-size="28.9" text-anchor="end" font-weight="normal" fill="#000" stroke="#000" stroke-width="0.4">500</text>
<line x1="1478.8" y1="902.5" x2="1478.8" y2="895.5" stroke="#000" stroke-width="2.5" stroke-linecap="butt"/>
<line x1="1600.8" y1="902.5" x2="1600.8" y2="895.5" stroke="#000" stroke-width="2.5" stroke-linecap="butt"/>
<line x1="1722.8" y1="902.5" x2="1722.8" y2="895.5" stroke="#000" stroke-width="2.5" stroke-linecap="butt"/>
<line x1="1844.8" y1="902.5" x2="1844.8" y2="895.5" stroke="#000" stroke-width="2.5" stroke-linecap="butt"/>
<line x1="1515.53" y1="902.5" x2="1515.53" y2="898.9" stroke="#000" stroke-width="2.5" stroke-linecap="butt"/>
<line x1="1537.01" y1="902.5" x2="1537.01" y2="898.9" stroke="#000" stroke-width="2.5" stroke-linecap="butt"/>
<line x1="1552.25" y1="902.5" x2="1552.25" y2="898.9" stroke="#000" stroke-width="2.5" stroke-linecap="butt"/>
<line x1="1564.07" y1="902.5" x2="1564.07" y2="898.9" stroke="#000" stroke-width="2.5" stroke-linecap="butt"/>
<line x1="1573.73" y1="902.5" x2="1573.73" y2="898.9" stroke="#000" stroke-width="2.5" stroke-linecap="butt"/>
<line x1="1581.9" y1="902.5" x2="1581.9" y2="898.9" stroke="#000" stroke-width="2.5" stroke-linecap="butt"/>
<line x1="1588.98" y1="902.5" x2="1588.98" y2="898.9" stroke="#000" stroke-width="2.5" stroke-linecap="butt"/>
<line x1="1595.22" y1="902.5" x2="1595.22" y2="898.9" stroke="#000" stroke-width="2.5" stroke-linecap="butt"/>
<line x1="1637.53" y1="902.5" x2="1637.53" y2="898.9" stroke="#000" stroke-width="2.5" stroke-linecap="butt"/>
<line x1="1659.01" y1="902.5" x2="1659.01" y2="898.9" stroke="#000" stroke-width="2.5" stroke-linecap="butt"/>
<line x1="1674.25" y1="902.5" x2="1674.25" y2="898.9" stroke="#000" stroke-width="2.5" stroke-linecap="butt"/>
<line x1="1686.07" y1="902.5" x2="1686.07" y2="898.9" stroke="#000" stroke-width="2.5" stroke-linecap="butt"/>
<line x1="1695.73" y1="902.5" x2="1695.73" y2="898.9" stroke="#000" stroke-width="2.5" stroke-linecap="butt"/>
<line x1="1703.9" y1="902.5" x2="1703.9" y2="898.9" stroke="#000" stroke-width="2.5" stroke-linecap="butt"/>
<line x1="1710.98" y1="902.5" x2="1710.98" y2="898.9" stroke="#000" stroke-width="2.5" stroke-linecap="butt"/>
<line x1="1717.22" y1="902.5" x2="1717.22" y2="898.9" stroke="#000" stroke-width="2.5" stroke-linecap="butt"/>
<line x1="1759.53" y1="902.5" x2="1759.53" y2="898.9" stroke="#000" stroke-width="2.5" stroke-linecap="butt"/>
<line x1="1781.01" y1="902.5" x2="1781.01" y2="898.9" stroke="#000" stroke-width="2.5" stroke-linecap="butt"/>
<line x1="1796.25" y1="902.5" x2="1796.25" y2="898.9" stroke="#000" stroke-width="2.5" stroke-linecap="butt"/>
<line x1="1808.07" y1="902.5" x2="1808.07" y2="898.9" stroke="#000" stroke-width="2.5" stroke-linecap="butt"/>
<line x1="1817.73" y1="902.5" x2="1817.73" y2="898.9" stroke="#000" stroke-width="2.5" stroke-linecap="butt"/>
<line x1="1825.9" y1="902.5" x2="1825.9" y2="898.9" stroke="#000" stroke-width="2.5" stroke-linecap="butt"/>
<line x1="1832.98" y1="902.5" x2="1832.98" y2="898.9" stroke="#000" stroke-width="2.5" stroke-linecap="butt"/>
<line x1="1839.22" y1="902.5" x2="1839.22" y2="898.9" stroke="#000" stroke-width="2.5" stroke-linecap="butt"/>
<line x1="1881.53" y1="902.5" x2="1881.53" y2="898.9" stroke="#000" stroke-width="2.5" stroke-linecap="butt"/>
<line x1="1903.01" y1="902.5" x2="1903.01" y2="898.9" stroke="#000" stroke-width="2.5" stroke-linecap="butt"/>
<line x1="1918.25" y1="902.5" x2="1918.25" y2="898.9" stroke="#000" stroke-width="2.5" stroke-linecap="butt"/>
<text transform="translate(1478.8 936.8) scale(1 1.045)" font-size="28.9" text-anchor="middle" font-weight="normal" fill="#000" stroke="#000" stroke-width="0.4">1</text>
<text transform="translate(1600.8 936.8) scale(1 1.045)" font-size="28.9" text-anchor="middle" font-weight="normal" fill="#000" stroke="#000" stroke-width="0.4">10</text>
<text transform="translate(1722.8 936.8) scale(1 1.045)" font-size="28.9" text-anchor="middle" font-weight="normal" fill="#000" stroke="#000" stroke-width="0.4">100</text>
<text transform="translate(1844.8 936.8) scale(1 1.045)" font-size="28.9" text-anchor="middle" font-weight="normal" fill="#000" stroke="#000" stroke-width="0.4">1000</text>
<text transform="translate(1700.1 978.6) scale(1 1.045)" font-size="28.9" text-anchor="middle" font-weight="normal" fill="#000" stroke="#000" stroke-width="0.4">H<tspan font-size="20.5" dy="8.9">2 </tspan><tspan dy="-8.9">(ppm)</tspan></text>
<text transform="translate(1391 726.2) rotate(-90) scale(1 1.045)" font-size="29" text-anchor="middle" fill="#000" stroke="#000" stroke-width="0.41">Working temperature (&#176;C)</text>
</svg>
</body></html>
